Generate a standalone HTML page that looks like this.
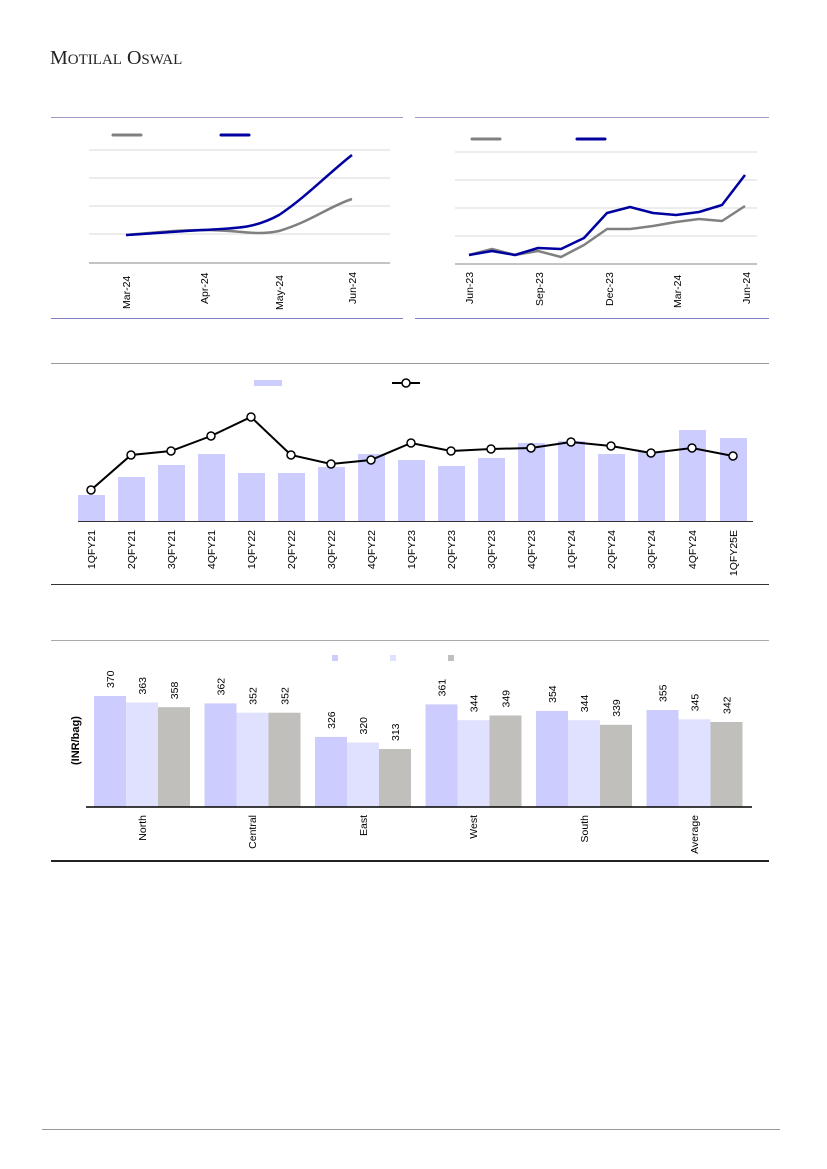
<!DOCTYPE html><html><head><meta charset="utf-8"><style>body{margin:0;background:#fff}svg{display:block}</style></head><body>
<svg width="827" height="1169" xmlns="http://www.w3.org/2000/svg" font-family="Liberation Sans, sans-serif">
<text x="50" y="64" font-family="Liberation Serif, serif" font-size="20" fill="#222">M<tspan font-size="15">OTILAL</tspan> O<tspan font-size="15">SWAL</tspan></text>
<!-- chart1 -->
<line x1="51" y1="117.5" x2="403" y2="117.5" stroke="#9c9ccc"/><line x1="51" y1="318.5" x2="403" y2="318.5" stroke="#8080c0"/>
<g stroke="#d9d9d9"><line x1="89" y1="150" x2="390" y2="150"/><line x1="89" y1="178" x2="390" y2="178"/><line x1="89" y1="206" x2="390" y2="206"/><line x1="89" y1="234" x2="390" y2="234"/></g>
<line x1="89" y1="263" x2="390" y2="263" stroke="#888"/>
<line x1="113" y1="135" x2="141" y2="135" stroke="#808080" stroke-width="3" stroke-linecap="round"/>
<line x1="221" y1="135" x2="249" y2="135" stroke="#0000a0" stroke-width="3" stroke-linecap="round"/>
<path d="M126 235 C160 232 180 230 204 230 C240 230 255 236 279 231 C310 222 330 206 352 199" fill="none" stroke="#808080" stroke-width="2.5"/>
<path d="M126 235 C160 233 180 231 204 230 C240 228 255 228 279 215 C305 198 330 172 352 155" fill="none" stroke="#0000a0" stroke-width="2.5"/>
<g font-size="10.5" fill="#000"><text transform="translate(130,309) rotate(-90)">Mar-24</text><text transform="translate(208,304) rotate(-90)">Apr-24</text><text transform="translate(283,310) rotate(-90)">May-24</text><text transform="translate(356,304) rotate(-90)">Jun-24</text></g>
<!-- chart2 -->
<line x1="415" y1="117.5" x2="769" y2="117.5" stroke="#9c9ccc"/><line x1="415" y1="318.5" x2="769" y2="318.5" stroke="#8080c0"/>
<g stroke="#d9d9d9"><line x1="455" y1="152" x2="757" y2="152"/><line x1="455" y1="180" x2="757" y2="180"/><line x1="455" y1="208" x2="757" y2="208"/><line x1="455" y1="236" x2="757" y2="236"/></g>
<line x1="455" y1="264" x2="757" y2="264" stroke="#888"/>
<line x1="472" y1="139" x2="500" y2="139" stroke="#808080" stroke-width="3" stroke-linecap="round"/>
<line x1="577" y1="139" x2="605" y2="139" stroke="#0000a0" stroke-width="3" stroke-linecap="round"/>
<polyline points="469,255 492,249 515,255 538,251 561,257 584,245 607,229 630,229 653,226 676,222 699,219 722,221 745,206" fill="none" stroke="#808080" stroke-width="2.5" stroke-linejoin="round"/>
<polyline points="469,255 492,251 515,255 538,248 561,249 584,238 607,213 630,207 653,213 676,215 699,212 722,205 745,175" fill="none" stroke="#0000a0" stroke-width="2.5" stroke-linejoin="round"/>
<g font-size="10.5"><text transform="translate(473,304) rotate(-90)">Jun-23</text><text transform="translate(543,306) rotate(-90)">Sep-23</text><text transform="translate(613,306) rotate(-90)">Dec-23</text><text transform="translate(681,308) rotate(-90)">Mar-24</text><text transform="translate(750,304) rotate(-90)">Jun-24</text></g>
<!-- chart3 -->
<line x1="51" y1="363.5" x2="769" y2="363.5" stroke="#999"/><line x1="51" y1="584.5" x2="769" y2="584.5" stroke="#333"/>
<rect x="254" y="380" width="28" height="6" fill="#ccccff"/>
<line x1="392" y1="383" x2="420" y2="383" stroke="#000" stroke-width="2"/><circle cx="406" cy="383" r="4" fill="#fff" stroke="#000" stroke-width="1.5"/>
<g fill="#ccccff">
<rect x="78" y="495" width="27" height="26"/><rect x="118" y="477" width="27" height="44"/><rect x="158" y="465" width="27" height="56"/><rect x="198" y="454" width="27" height="67"/><rect x="238" y="473" width="27" height="48"/><rect x="278" y="473" width="27" height="48"/><rect x="318" y="467" width="27" height="54"/><rect x="358" y="454" width="27" height="67"/><rect x="398" y="460" width="27" height="61"/><rect x="438" y="466" width="27" height="55"/><rect x="478" y="458" width="27" height="63"/><rect x="518" y="443" width="27" height="78"/><rect x="558" y="441" width="27" height="80"/><rect x="598" y="454" width="27" height="67"/><rect x="638" y="452" width="27" height="69"/><rect x="679" y="430" width="27" height="91"/><rect x="720" y="438" width="27" height="83"/></g>
<line x1="78" y1="521.5" x2="753" y2="521.5" stroke="#333"/>
<polyline points="91,490 131,455 171,451 211,436 251,417 291,455 331,464 371,460 411,443 451,451 491,449 531,448 571,442 611,446 651,453 692,448 733,456" fill="none" stroke="#000" stroke-width="2"/>
<g fill="#fff" stroke="#000" stroke-width="1.5"><circle cx="91" cy="490" r="4"/><circle cx="131" cy="455" r="4"/><circle cx="171" cy="451" r="4"/><circle cx="211" cy="436" r="4"/><circle cx="251" cy="417" r="4"/><circle cx="291" cy="455" r="4"/><circle cx="331" cy="464" r="4"/><circle cx="371" cy="460" r="4"/><circle cx="411" cy="443" r="4"/><circle cx="451" cy="451" r="4"/><circle cx="491" cy="449" r="4"/><circle cx="531" cy="448" r="4"/><circle cx="571" cy="442" r="4"/><circle cx="611" cy="446" r="4"/><circle cx="651" cy="453" r="4"/><circle cx="692" cy="448" r="4"/><circle cx="733" cy="456" r="4"/></g>
<g font-size="10.5" text-anchor="end">
<text transform="translate(95,530) rotate(-90)">1QFY21</text><text transform="translate(135,530) rotate(-90)">2QFY21</text><text transform="translate(175,530) rotate(-90)">3QFY21</text><text transform="translate(215,530) rotate(-90)">4QFY21</text><text transform="translate(255,530) rotate(-90)">1QFY22</text><text transform="translate(295,530) rotate(-90)">2QFY22</text><text transform="translate(335,530) rotate(-90)">3QFY22</text><text transform="translate(375,530) rotate(-90)">4QFY22</text><text transform="translate(415,530) rotate(-90)">1QFY23</text><text transform="translate(455,530) rotate(-90)">2QFY23</text><text transform="translate(495,530) rotate(-90)">3QFY23</text><text transform="translate(535,530) rotate(-90)">4QFY23</text><text transform="translate(575,530) rotate(-90)">1QFY24</text><text transform="translate(615,530) rotate(-90)">2QFY24</text><text transform="translate(655,530) rotate(-90)">3QFY24</text><text transform="translate(696,530) rotate(-90)">4QFY24</text><text transform="translate(737,530) rotate(-90)">1QFY25E</text></g>
<!-- chart4 -->
<line x1="51" y1="640.5" x2="769" y2="640.5" stroke="#aaa"/><line x1="51" y1="861" x2="769" y2="861" stroke="#222" stroke-width="2"/>
<rect x="332" y="655" width="6" height="6" fill="#ccccff"/><rect x="390" y="655" width="6" height="6" fill="#e0e0ff"/><rect x="448" y="655" width="6" height="6" fill="#c0bfbb"/>
<text transform="translate(79,765) rotate(-90)" font-size="11" font-weight="bold">(INR/bag)</text>
<g>
<rect x="94" y="696" width="32" height="111" fill="#ccccff"/><rect x="126" y="702.5" width="32" height="104.5" fill="#e0e0ff"/><rect x="158" y="707.2" width="32" height="99.8" fill="#c0bfbb"/>
<rect x="204.5" y="703.4" width="32" height="103.6" fill="#ccccff"/><rect x="236.5" y="712.7" width="32" height="94.3" fill="#e0e0ff"/><rect x="268.5" y="712.7" width="32" height="94.3" fill="#c0bfbb"/>
<rect x="315" y="736.9" width="32" height="70.1" fill="#ccccff"/><rect x="347" y="742.5" width="32" height="64.5" fill="#e0e0ff"/><rect x="379" y="749" width="32" height="58" fill="#c0bfbb"/>
<rect x="425.5" y="704.4" width="32" height="102.6" fill="#ccccff"/><rect x="457.5" y="720.2" width="32" height="86.8" fill="#e0e0ff"/><rect x="489.5" y="715.5" width="32" height="91.5" fill="#c0bfbb"/>
<rect x="536" y="710.9" width="32" height="96.1" fill="#ccccff"/><rect x="568" y="720.2" width="32" height="86.8" fill="#e0e0ff"/><rect x="600" y="724.8" width="32" height="82.2" fill="#c0bfbb"/>
<rect x="646.5" y="710" width="32" height="97" fill="#ccccff"/><rect x="678.5" y="719.3" width="32" height="87.7" fill="#e0e0ff"/><rect x="710.5" y="722" width="32" height="85" fill="#c0bfbb"/>
</g>
<g font-size="10.5">
<text transform="translate(114,688) rotate(-90)">370</text><text transform="translate(146,694.5) rotate(-90)">363</text><text transform="translate(178,699.2) rotate(-90)">358</text>
<text transform="translate(224.5,695.4) rotate(-90)">362</text><text transform="translate(256.5,704.7) rotate(-90)">352</text><text transform="translate(288.5,704.7) rotate(-90)">352</text>
<text transform="translate(335,728.9) rotate(-90)">326</text><text transform="translate(367,734.5) rotate(-90)">320</text><text transform="translate(399,741) rotate(-90)">313</text>
<text transform="translate(445.5,696.4) rotate(-90)">361</text><text transform="translate(477.5,712.2) rotate(-90)">344</text><text transform="translate(509.5,707.5) rotate(-90)">349</text>
<text transform="translate(556,702.9) rotate(-90)">354</text><text transform="translate(588,712.2) rotate(-90)">344</text><text transform="translate(620,716.8) rotate(-90)">339</text>
<text transform="translate(666.5,702) rotate(-90)">355</text><text transform="translate(698.5,711.3) rotate(-90)">345</text><text transform="translate(730.5,714) rotate(-90)">342</text>
</g>
<line x1="86" y1="807" x2="752" y2="807" stroke="#000" stroke-width="1.5"/>
<g font-size="10.5" text-anchor="end">
<text transform="translate(146,815) rotate(-90)">North</text><text transform="translate(256,815) rotate(-90)">Central</text><text transform="translate(367,815) rotate(-90)">East</text><text transform="translate(477,815) rotate(-90)">West</text><text transform="translate(588,815) rotate(-90)">South</text><text transform="translate(698,815) rotate(-90)">Average</text></g>
<line x1="42" y1="1129.5" x2="780" y2="1129.5" stroke="#999"/>
</svg></body></html>
